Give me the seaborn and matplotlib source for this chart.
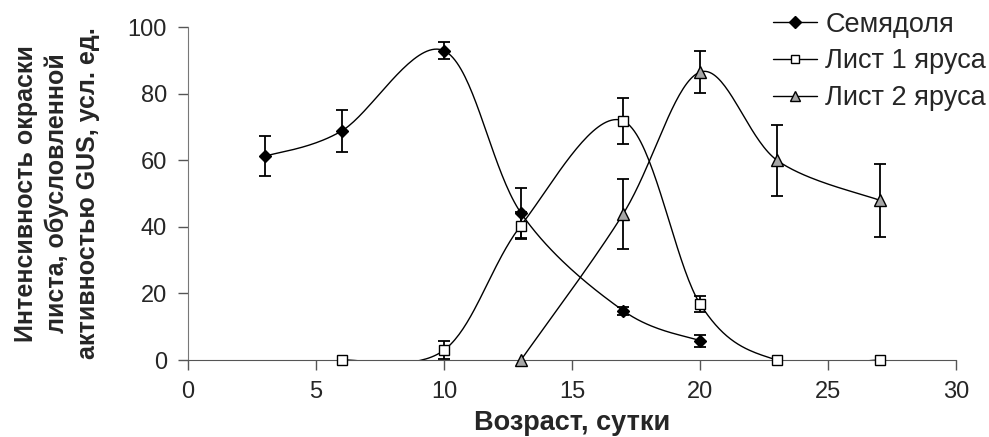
import numpy as np
import pandas as pd
import matplotlib
matplotlib.use("Agg")
import matplotlib.pyplot as plt
import seaborn as sns
from matplotlib.lines import Line2D

# ---- data ----
x_sem = [3, 6, 10, 13, 17, 20]
y_sem = [61.2, 68.8, 92.9, 44.2, 14.8, 5.8]
e_sem = [6.0, 6.2, 2.6, 7.6, 1.2, 1.8]

x_l1 = [6, 10, 13, 17, 20, 23, 27]
y_l1 = [0.0, 3.0, 40.4, 71.8, 16.8, 0.0, 0.0]
e_l1 = [0.0, 2.8, 4.0, 6.9, 2.4, 0.0, 0.0]

x_l2 = [13, 17, 20, 23, 27]
y_l2 = [0.0, 44.0, 86.5, 60.0, 48.0]
e_l2 = [0.0, 10.5, 6.3, 10.7, 11.0]

series_names = ["Семядоля", "Лист 1 яруса", "Лист 2 яруса"]
x_ticks = [0, 5, 10, 15, 20, 25, 30]
y_ticks = [0, 20, 40, 60, 80, 100]

sns.set_style("ticks")
plt.rcParams['font.family'] = ['Liberation Sans', 'DejaVu Sans']


def smooth(xs, ys, n=40):
    """Excel-like smoothed line (cubic Bezier with Catmull-Rom control points)."""
    P = np.column_stack([xs, ys]).astype(float)
    out = []
    for i in range(len(P) - 1):
        p0 = P[i - 1] if i > 0 else P[i]
        p1 = P[i]
        p2 = P[i + 1]
        p3 = P[i + 2] if i + 2 < len(P) else P[i + 1]
        b1 = p1 + (p2 - p0) / 6.0
        b2 = p2 - (p3 - p1) / 6.0
        t = np.linspace(0, 1, n)[:, None]
        seg = ((1 - t) ** 3) * p1 + 3 * ((1 - t) ** 2) * t * b1 + 3 * (1 - t) * t ** 2 * b2 + t ** 3 * p2
        out.append(seg if i == 0 else seg[1:])
    return np.vstack(out)


fig = plt.figure(figsize=(9.89, 4.37), dpi=100)
ax = fig.add_axes([0.190, 0.176, 0.777, 0.762])

styles = [
    dict(marker="D", mfc="black", mec="black", ms=6.5),
    dict(marker="s", mfc="white", mec="black", ms=6.5),
    dict(marker="^", mfc="#a6a6a6", mec="black", ms=8),
]
datasets = [(x_sem, y_sem, e_sem), (x_l1, y_l1, e_l1), (x_l2, y_l2, e_l2)]

for (xs, ys, es), name, st in zip(datasets, series_names, styles):
    curve = smooth(xs, ys)
    df = pd.DataFrame({"x": curve[:, 0], "y": curve[:, 1]})
    sns.lineplot(data=df, x="x", y="y", sort=False, estimator=None, color="black",
                 lw=1.0, ax=ax, zorder=2)
    mask = np.array(es) > 0
    ax.errorbar(np.array(xs)[mask], np.array(ys)[mask], yerr=np.array(es)[mask], fmt="none",
                ecolor="black", elinewidth=1.3, capsize=4.3, capthick=1.3, zorder=3)
    ax.plot(xs, ys, linestyle="none", mew=1.0, zorder=4, clip_on=False, **st)

ax.set_xlim(0, 30)
ax.set_ylim(0, 100)
ax.set_xticks(x_ticks)
ax.set_yticks(y_ticks)
ax.tick_params(axis="both", labelsize=17, length=7, width=1, color="#555555", direction="out")
ax.tick_params(axis="y", pad=8)
ax.tick_params(axis="x", pad=8)
for s in ["top", "right"]:
    ax.spines[s].set_visible(False)
ax.spines["left"].set_color("#777777")
ax.spines["bottom"].set_color("#555555")

ax.set_xlabel("Возраст, сутки", fontsize=19.5, fontweight="bold", labelpad=5)
ax.set_ylabel("Интенсивность окраски\nлиста, обусловленной\nактивностью GUS, усл. ед.",
              fontsize=18, fontweight="bold", linespacing=1.35)
ax.yaxis.set_label_coords(-0.1705, 0.5)
ax.yaxis.label.set_verticalalignment("center")

handles = [Line2D([0], [0], color="black", lw=1.0, **st) for st in styles]
handles[0].set_markersize(6)
handles[1].set_markersize(5.5)
handles[2].set_markersize(7)
leg = ax.legend(handles, series_names, loc="upper left", bbox_to_anchor=(0.7816, 0.9736),
                bbox_transform=fig.transFigure, borderaxespad=0, borderpad=0,
                frameon=False, fontsize=19.5, handlelength=1.63, handletextpad=0.3,
                labelspacing=0.4)

fig.savefig("out.png", dpi=100)
